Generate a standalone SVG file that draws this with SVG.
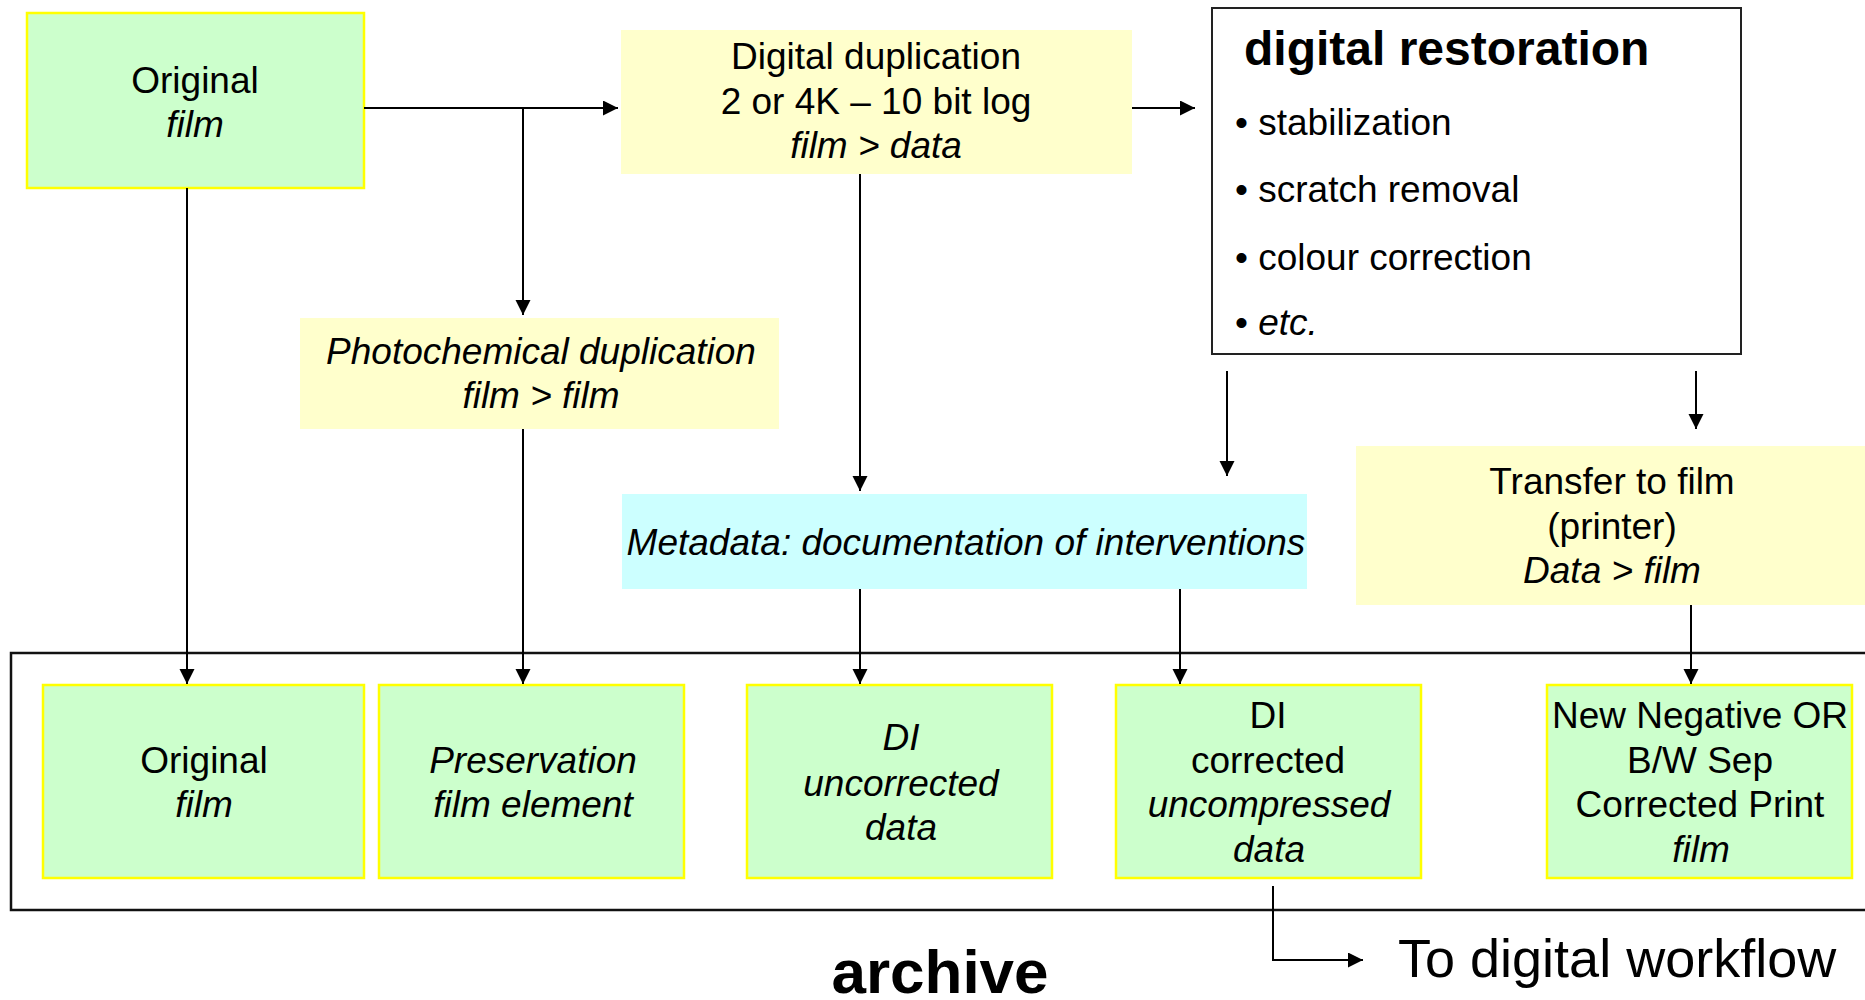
<svg xmlns="http://www.w3.org/2000/svg" width="1865" height="1000" viewBox="0 0 1865 1000">
<defs>
<marker id="arr" markerUnits="userSpaceOnUse" markerWidth="16" markerHeight="16" refX="15" refY="7.5" orient="auto">
<path d="M0,0 L15,7.5 L0,15 z" fill="#000"/>
</marker>
<style>
text{font-family:"Liberation Sans",Arial,sans-serif;font-size:37px;fill:#000;text-anchor:middle}
.i{font-style:italic}
.g{fill:#CCFFCC;stroke:#FFFF00;stroke-width:2.5}
.y{fill:#FFFFCC}
.c{fill:#CCFFFF}
.conn path{fill:none;stroke:#000;stroke-width:2;marker-end:url(#arr)}
</style>
</defs>
<rect width="1865" height="1000" fill="#fff"/>

<g id="archive">
<rect x="11" y="653" width="1870" height="257" fill="none" stroke="#111" stroke-width="2.5"/>
<text x="940" y="993" style="font-weight:bold;font-size:62px">archive</text>
</g>

<g id="original-top">
<rect class="g" x="27" y="13" width="337" height="175"/>
<text x="195" y="93">Original</text>
<text class="i" x="195" y="137">film</text>
</g>

<g id="digital-duplication">
<rect class="y" x="621" y="30" width="511" height="144"/>
<text x="876" y="69">Digital duplication</text>
<text x="876" y="114">2 or 4K – 10 bit log</text>
<text class="i" x="876" y="158">film &gt; data</text>
</g>

<g id="digital-restoration">
<rect x="1212" y="8" width="529" height="346" fill="#fff" stroke="#222" stroke-width="2"/>
<text x="1244" y="65" style="font-weight:bold;font-size:48px;text-anchor:start">digital restoration</text>
<text x="1235" y="135" style="text-anchor:start">• stabilization</text>
<text x="1235" y="202" style="text-anchor:start">• scratch removal</text>
<text x="1235" y="270" style="text-anchor:start">• colour correction</text>
<text x="1235" y="335" style="text-anchor:start">• <tspan class="i">etc.</tspan></text>
</g>

<g id="photochemical">
<rect class="y" x="300" y="318" width="479" height="111"/>
<text class="i" x="541" y="364">Photochemical duplication</text>
<text class="i" x="541" y="408">film &gt; film</text>
</g>

<g id="metadata">
<rect class="c" x="622" y="494" width="685" height="95"/>
<text class="i" x="966" y="555">Metadata: documentation of interventions</text>
</g>

<g id="transfer">
<rect class="y" x="1356" y="446" width="520" height="159"/>
<text x="1612" y="494">Transfer to film</text>
<text x="1612" y="539">(printer)</text>
<text class="i" x="1612" y="583">Data &gt; film</text>
</g>

<g id="original-bottom">
<rect class="g" x="43" y="685" width="321" height="193"/>
<text x="204" y="773">Original</text>
<text class="i" x="204" y="817">film</text>
</g>

<g id="preservation">
<rect class="g" x="379" y="685" width="305" height="193"/>
<text class="i" x="533" y="773">Preservation</text>
<text class="i" x="533" y="817">film element</text>
</g>

<g id="di-uncorrected">
<rect class="g" x="747" y="685" width="305" height="193"/>
<text class="i" x="901" y="750">DI</text>
<text class="i" x="901" y="796">uncorrected</text>
<text class="i" x="901" y="840">data</text>
</g>

<g id="di-corrected">
<rect class="g" x="1116" y="685" width="305" height="193"/>
<text x="1268" y="728">DI</text>
<text x="1268" y="773">corrected</text>
<text class="i" x="1269" y="817">uncompressed</text>
<text class="i" x="1269" y="862">data</text>
</g>

<g id="new-negative">
<rect class="g" x="1547" y="685" width="305" height="193"/>
<text x="1700" y="728">New Negative OR</text>
<text x="1700" y="773">B/W Sep</text>
<text x="1700" y="817">Corrected Print</text>
<text class="i" x="1701" y="862">film</text>
</g>

<g id="to-digital-workflow">
<text x="1398" y="977" style="font-size:54px;text-anchor:start">To digital workflow</text>
</g>

<g id="connectors" class="conn">
<path d="M364,108 H618"/>
<path d="M523,108 V315"/>
<path d="M1132,108 H1195"/>
<path d="M187,188 V684"/>
<path d="M523,429 V684"/>
<path d="M860,174 V491"/>
<path d="M1227,371 V476"/>
<path d="M1696,371 V429"/>
<path d="M860,589 V684"/>
<path d="M1180,589 V684"/>
<path d="M1691,605 V684"/>
<path d="M1273,886 V960 H1363"/>
</g>
</svg>
